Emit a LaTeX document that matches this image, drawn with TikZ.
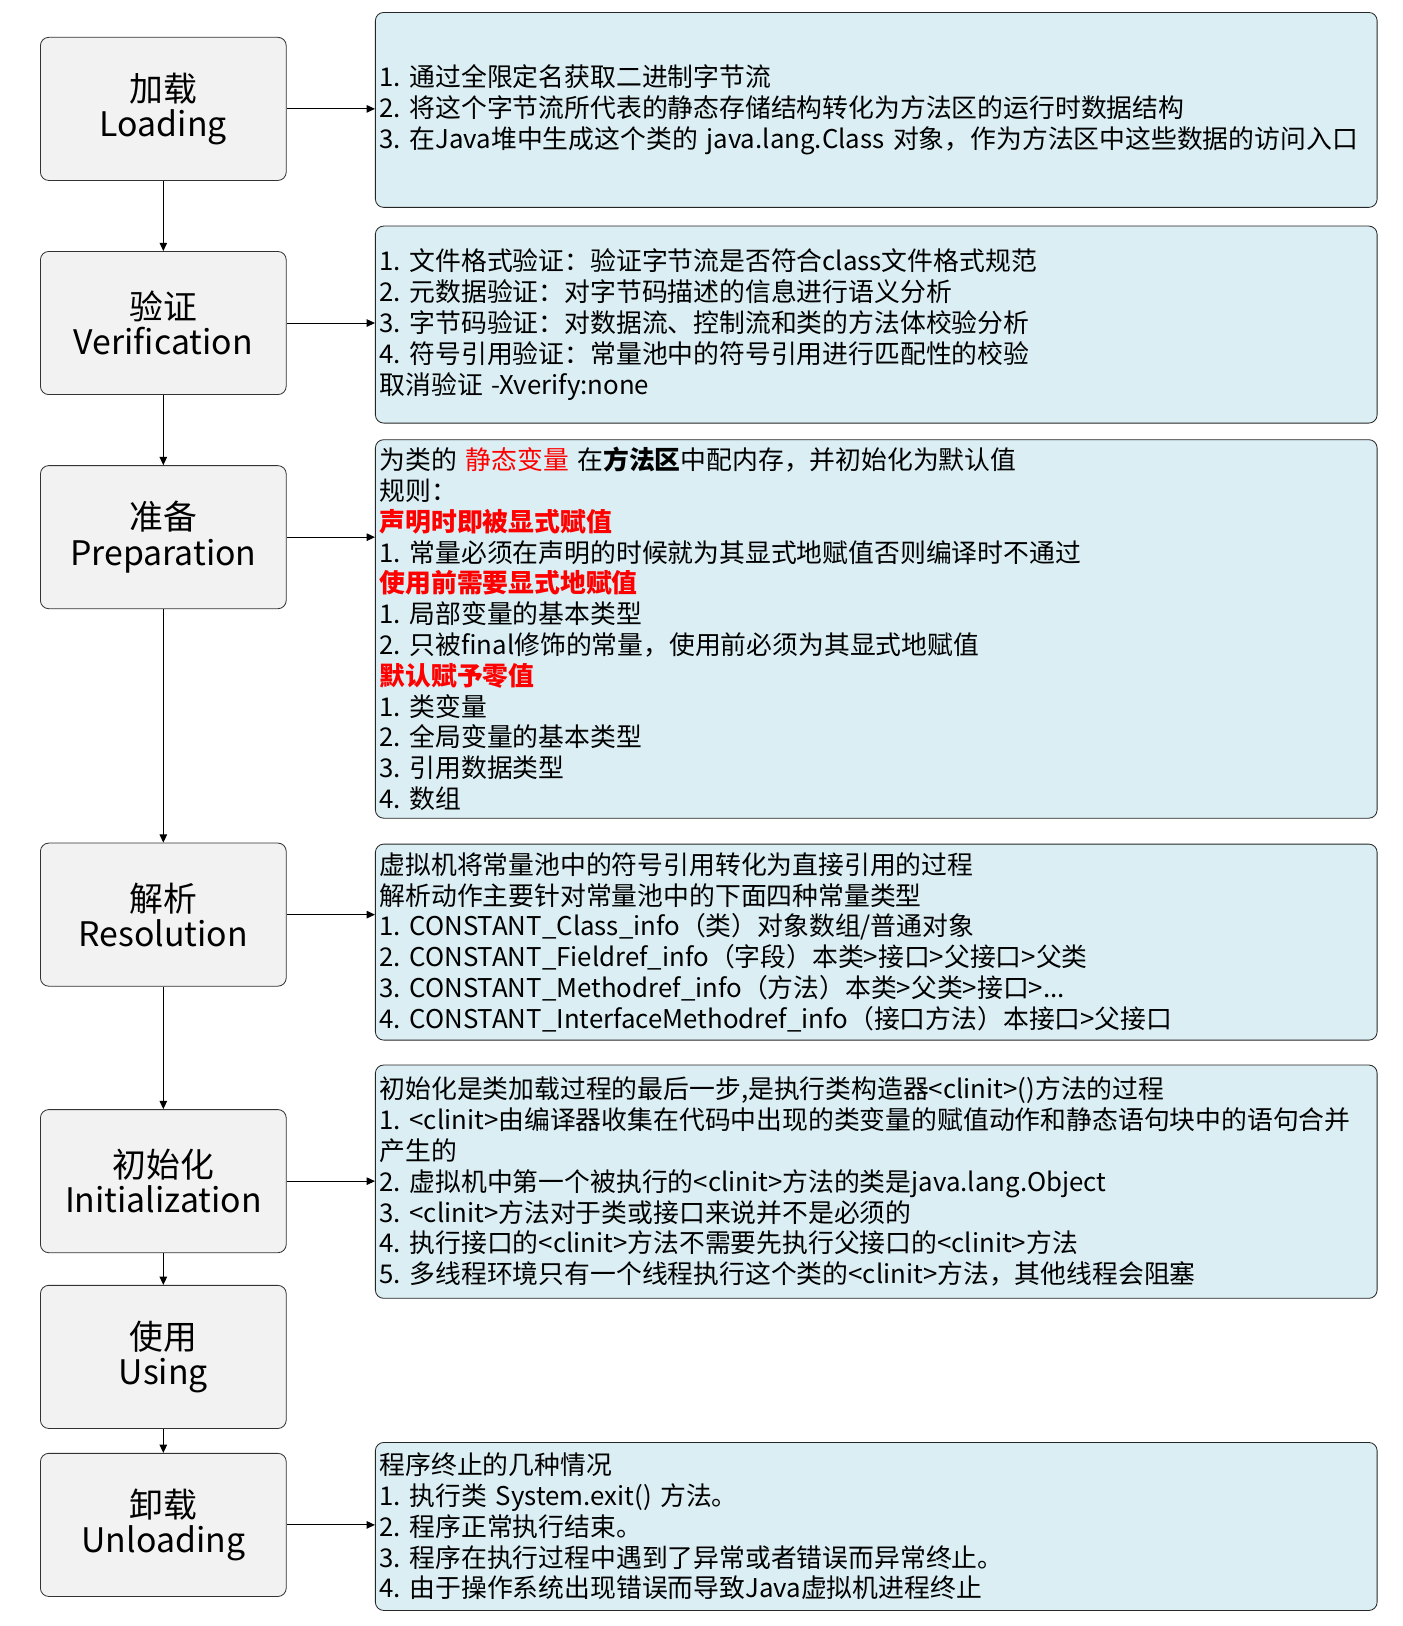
\documentclass[tikz,border=0pt]{standalone}
\usepackage{fontspec}
\setmainfont{Noto Sans CJK SC}
\frenchspacing
\usetikzlibrary{arrows.meta}
\definecolor{stagegray}{HTML}{F2F2F2}
\definecolor{infoblue}{HTML}{DAEEF3}
\newcommand*{\xStage}{157.5}
\newcommand*{\xInfo}{845}
\newcommand\Stage[4]{
	\node [stage] (#1) at (\xStage,#2) {#3\\#4};
}
\newcommand\Rule[1]{{\bfseries\color{red}#1}}

\begin{document}
\begin{tikzpicture}[x=0.5pt, y=-0.5pt,
	stage/.style={draw=black!80, fill=stagegray, rounded corners=4pt, minimum width=118.5pt, minimum height=69pt, inner sep=0pt, align=center, font=\fontsize{16.3}{17}\selectfont},
	info/.style={draw=black!85, fill=infoblue, rounded corners=4pt, minimum width=483pt, text width=479pt, inner sep=2pt, align=left, font=\fontsize{12.45}{14.85}\selectfont},
	link/.style={draw, line width=0.5pt, -{Triangle[length=4pt, width=3.6pt]}}]
	\useasboundingbox (0,0) rectangle (1352,1568);
	% stages
	\Stage{load}{105}{加载}{Loading}
	\Stage{verify}{311.5}{验证}{Verification}
	\Stage{prep}{518}{准备}{Preparation}
	\Stage{resolve}{882}{解析}{Resolution}
	\Stage{init}{1139}{初始化}{Initialization}
	\Stage{use}{1308.5}{使用}{Using}
	\Stage{unload}{1470.5}{卸载}{Unloading}
	% notes
	\node [info, minimum height=94pt] (loadinfo) at (\xInfo,106) {1. 通过全限定名获取二进制字节流\\2. 将这个字节流所代表的静态存储结构转化为方法区的运行时数据结构\\3. 在Java堆中生成这个类的 java.lang.Class 对象，作为方法区中这些数据的访问入口};
	\node [info, minimum height=95pt] (verifyinfo) at (\xInfo,313) {1. 文件格式验证：验证字节流是否符合class文件格式规范\\2. 元数据验证：对字节码描述的信息进行语义分析\\3. 字节码验证：对数据流、控制流和类的方法体校验分析\\4. 符号引用验证：常量池中的符号引用进行匹配性的校验\\取消验证 -Xverify:none};
	\node [info, minimum height=182.5pt] (prepinfo) at (\xInfo,606.5) {为类的 {\color{red}静态变量} 在\textbf{方法区}中配内存，并初始化为默认值\\规则：\\\Rule{声明时即被显式赋值}\\1. 常量必须在声明的时候就为其显式地赋值否则编译时不通过\\\Rule{使用前需要显式地赋值}\\1. 局部变量的基本类型\\2. 只被final修饰的常量，使用前必须为其显式地赋值\\\Rule{默认赋予零值}\\1. 类变量\\2. 全局变量的基本类型\\3. 引用数据类型\\4. 数组};
	\node [info, minimum height=94.5pt] (resolveinfo) at (\xInfo,908.5) {虚拟机将常量池中的符号引用转化为直接引用的过程\\解析动作主要针对常量池中的下面四种常量类型\\1. CONSTANT\_Class\_info（类）对象数组/普通对象\\2. CONSTANT\_Fieldref\_info（字段）本类>接口>父接口>父类\\3. CONSTANT\_Methodref\_info（方法）本类>父类>接口>...\\4. CONSTANT\_InterfaceMethodref\_info（接口方法）本接口>父接口};
	\node [info, minimum height=112.5pt] (initinfo) at (\xInfo,1139.5) {初始化是类加载过程的最后一步,是执行类构造器<clinit>()方法的过程\\1. <clinit>由编译器收集在代码中出现的类变量的赋值动作和静态语句块中的语句合并\\产生的\\2. 虚拟机中第一个被执行的<clinit>方法的类是java.lang.Object\\3. <clinit>方法对于类或接口来说并不是必须的\\4. 执行接口的<clinit>方法不需要先执行父接口的<clinit>方法\\5. 多线程环境只有一个线程执行这个类的<clinit>方法，其他线程会阻塞\\[6pt]};
	\node [info, minimum height=81pt] (unloadinfo) at (\xInfo,1472) {程序终止的几种情况\\1. 执行类 System.exit() 方法。\\2. 程序正常执行结束。\\3. 程序在执行过程中遇到了异常或者错误而异常终止。\\4. 由于操作系统出现错误而导致Java虚拟机进程终止};
	% arrows
	\foreach \a/\b in {load/verify, verify/prep, prep/resolve, resolve/init, init/use, use/unload}
		\path [link] (\a.south) -- (\b.north);
	\foreach \s in {load, verify, prep, resolve, init, unload}
		\path [link] (\s.east) -- (\s.east -| \s info.west);
\end{tikzpicture}
\end{document}
